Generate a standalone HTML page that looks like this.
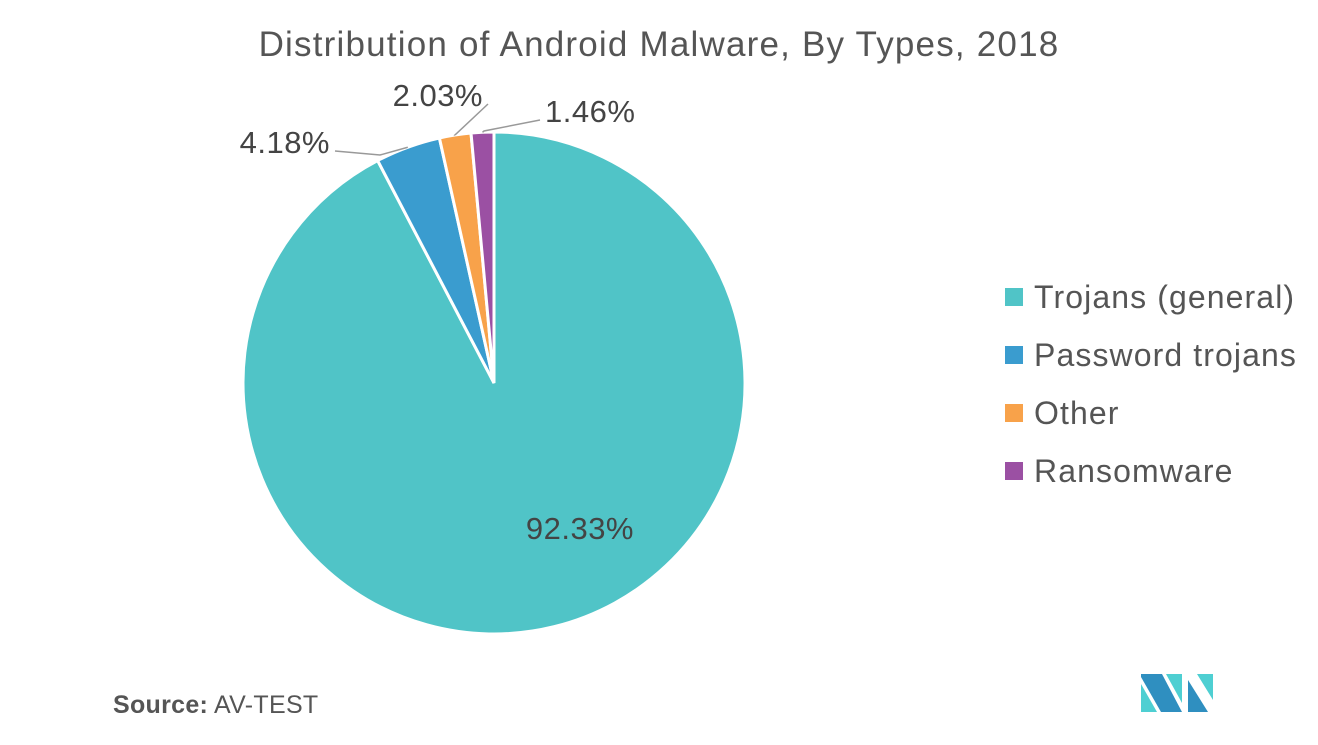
<!DOCTYPE html>
<html><head><meta charset="utf-8"><style>
body{margin:0;background:#fff;width:1318px;height:740px;overflow:hidden;font-family:"Liberation Sans",sans-serif;}
</style></head><body>
<svg width="1318" height="740" xmlns="http://www.w3.org/2000/svg">
<text x="659" y="56" text-anchor="middle" font-size="35" letter-spacing="1.2" fill="#555">Distribution of Android Malware, By Types, 2018</text>
<g id="pie"></g>
<g id="legend"></g>
<text x="113" y="713" font-size="25" letter-spacing="0.3" fill="#555"><tspan font-weight="bold">Source:</tspan> AV-TEST</text>
<g>
<polygon points="1141,674 1162,674 1182,712 1161,712 1141,677" fill="#2f8fc0"/>
<polygon points="1141,684 1157,712 1141,712" fill="#4ecfd2"/>
<polygon points="1166,674 1182,674 1182,703" fill="#4ecfd2"/>
<polygon points="1188,680 1208,712 1188,712" fill="#2f8fc0"/>
<polygon points="1197,674 1213,674 1213,700" fill="#4ecfd2"/>
</g>
</svg>
<script>
const categories=["Trojans (general)","Password trojans","Other","Ransomware"];
const values=[92.33,4.18,2.03,1.46];
const labels=["92.33%","4.18%","2.03%","1.46%"];
const colors=["#50c4c7","#3a9ccf","#f8a24a","#9b50a3"];
const ns="http://www.w3.org/2000/svg";
const cx=494,cy=383,r=251;
const pie=document.getElementById('pie');
const total=values.reduce((a,b)=>a+b,0);
function pt(a,rr){return [cx+rr*Math.sin(a),cy-rr*Math.cos(a)];}
let a0=0;
const labelPos=[null,[330,143,'end',380,155],[483,96,'end',455,135],[545,112,'start',484,131]];
values.forEach((v,i)=>{
  const a1=a0+v/total*2*Math.PI;
  const p0=pt(a0,r),p1=pt(a1,r);
  const large=(a1-a0)>Math.PI?1:0;
  const path=document.createElementNS(ns,'path');
  path.setAttribute('d',`M${cx},${cy}L${p0[0]},${p0[1]}A${r},${r} 0 ${large} 1 ${p1[0]},${p1[1]}Z`);
  path.setAttribute('fill',colors[i]);
  path.setAttribute('stroke','#fff');
  path.setAttribute('stroke-width','3');
  
  
  pie.appendChild(path);
  const mid=(a0+a1)/2;
  const t=document.createElementNS(ns,'text');
  t.setAttribute('font-size','31');
  t.setAttribute('letter-spacing','0.5');
  t.setAttribute('fill','#444');
  if(i===0){
    const p=pt(mid,0.6*r);
    t.setAttribute('x',p[0]+50);t.setAttribute('y',p[1]+10);t.setAttribute('text-anchor','middle');
  }else{
    const e=pt(mid,r);
    const lp=labelPos[i];
    const ln=document.createElementNS(ns,'polyline');
    const lx=lp[2]==='end'?lp[0]+5:lp[0]-5;
    ln.setAttribute('points',`${e[0]},${e[1]} ${lp[3]},${lp[4]} ${lx},${lp[1]+8}`);
    ln.setAttribute('fill','none');ln.setAttribute('stroke','#999');ln.setAttribute('stroke-width','1.5');
    
    
    pie.appendChild(ln);
    t.setAttribute('x',lp[0]);t.setAttribute('y',lp[1]+10);t.setAttribute('text-anchor',lp[2]);
  }
  t.textContent=labels[i];
  
  
  pie.appendChild(t);
  a0=a1;
});
const lg=document.getElementById('legend');
categories.forEach((c,i)=>{
  const y=297+i*58;
  const rc=document.createElementNS(ns,'rect');
  rc.setAttribute('x',1005);rc.setAttribute('y',y-9);rc.setAttribute('width',18);rc.setAttribute('height',18);
  rc.setAttribute('fill',colors[i]);
  
  
  lg.appendChild(rc);
  const t=document.createElementNS(ns,'text');
  t.setAttribute('x',1034);t.setAttribute('y',y+11);t.setAttribute('font-size','32');t.setAttribute('letter-spacing','1.1');t.setAttribute('fill','#555');
  t.textContent=c;
  
  
  lg.appendChild(t);
});
</script>
</body></html>
